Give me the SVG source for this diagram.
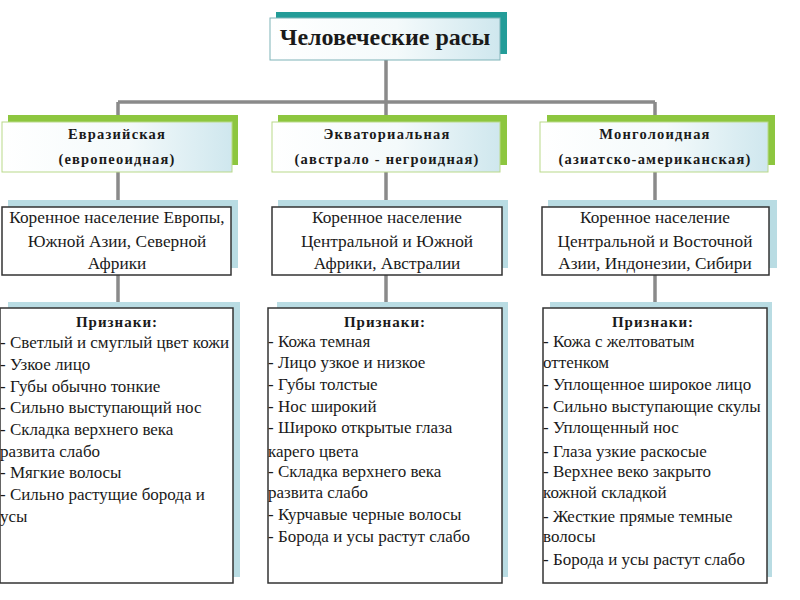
<svg xmlns="http://www.w3.org/2000/svg" width="800" height="600" viewBox="0 0 800 600">
<defs>
<linearGradient id="gbox" x1="0" y1="0" x2="1" y2="0">
<stop offset="0" stop-color="#ffffff"/>
<stop offset="0.55" stop-color="#f4fafb"/>
<stop offset="1" stop-color="#cfe7ee"/>
</linearGradient>
<style>
.conn{stroke:#8a8a8a;stroke-width:3.5;fill:none}
.tshadow{fill:#239c98}
.rshadow{fill:#8dc63f}
.bshadow{fill:#b9dce3}
.tbox{fill:url(#gbox);stroke:#7fb3b8;stroke-width:1}
.rbox{fill:url(#gbox);stroke:#b9d98a;stroke-width:1}
.wbox{fill:#ffffff;stroke:#333333;stroke-width:1.5}
text{font-family:'Liberation Serif','Times New Roman',Tinos,'DejaVu Serif','Noto Serif',serif;fill:#1a1a1a}
.title{font-size:24px;font-weight:bold;text-anchor:middle}
.race{font-size:14.5px;font-weight:bold;text-anchor:middle;letter-spacing:1.2px}
.desc{font-size:17.3px;text-anchor:middle}
.hdr{font-size:15px;font-weight:bold;text-anchor:middle;letter-spacing:1px}
.feat{font-size:17px}
</style>
</defs>
<rect width="800" height="600" fill="#ffffff"/>

<g id="connectors">
<line class="conn" x1="386" y1="60" x2="386" y2="102"/>
<line class="conn" x1="118" y1="102" x2="655" y2="102"/>
<line class="conn" x1="118" y1="102" x2="118" y2="122"/>
<line class="conn" x1="386" y1="102" x2="386" y2="122"/>
<line class="conn" x1="655" y1="102" x2="655" y2="122"/>
<line class="conn" x1="118" y1="172" x2="118" y2="207"/>
<line class="conn" x1="386" y1="172" x2="386" y2="207"/>
<line class="conn" x1="655" y1="172" x2="655" y2="207"/>
<line class="conn" x1="118" y1="275" x2="118" y2="308"/>
<line class="conn" x1="386" y1="275" x2="386" y2="308"/>
<line class="conn" x1="655" y1="275" x2="655" y2="308"/>
</g>

<g id="title">
<rect class="tshadow" x="276" y="12" width="231" height="42"/>
<rect class="tbox" x="270" y="18" width="230" height="42"/>
<text class="title" x="385" y="45">Человеческие расы</text>
</g>

<g id="race-eurasian">
<rect class="rshadow" x="8" y="115" width="230" height="50"/>
<rect class="rbox" x="2" y="122" width="230" height="50"/>
<text class="race" x="117" y="139">Евразийская</text>
<text class="race" x="117" y="164">(европеоидная)</text>
</g>
<g id="race-equatorial">
<rect class="rshadow" x="278" y="115" width="229" height="50"/>
<rect class="rbox" x="272" y="122" width="228" height="50"/>
<text class="race" x="387" y="139">Экваториальная</text>
<text class="race" x="387" y="164">(австрало - негроидная)</text>
</g>
<g id="race-mongoloid">
<rect class="rshadow" x="547" y="115" width="228" height="50"/>
<rect class="rbox" x="540" y="122" width="228" height="50"/>
<text class="race" x="655" y="139">Монголоидная</text>
<text class="race" x="655" y="164">(азиатско-американская)</text>
</g>

<g id="desc-eurasian">
<rect class="bshadow" x="8" y="200" width="230" height="68"/>
<rect class="wbox" x="2" y="207" width="229" height="68"/>
<text class="desc" x="117" y="223">Коренное население Европы,</text>
<text class="desc" x="117" y="247">Южной Азии, Северной</text>
<text class="desc" x="117" y="269">Африки</text>
</g>
<g id="desc-equatorial">
<rect class="bshadow" x="278" y="200" width="230" height="68"/>
<rect class="wbox" x="272" y="207" width="230" height="68"/>
<text class="desc" x="387" y="223">Коренное население</text>
<text class="desc" x="387" y="247">Центральной и Южной</text>
<text class="desc" x="387" y="269">Африки, Австралии</text>
</g>
<g id="desc-mongoloid">
<rect class="bshadow" x="548" y="200" width="229" height="68"/>
<rect class="wbox" x="542" y="207" width="227" height="68"/>
<text class="desc" x="655" y="223">Коренное население</text>
<text class="desc" x="655" y="247">Центральной и Восточной</text>
<text class="desc" x="655" y="269">Азии, Индонезии, Сибири</text>
</g>

<g id="features-eurasian">
<rect class="bshadow" x="8" y="302" width="232" height="275"/>
<rect class="wbox" x="0" y="308" width="233" height="275"/>
<text class="hdr" x="117" y="327">Признаки:</text>
<text class="feat" x="0" y="348">- Светлый и смуглый цвет кожи</text>
<text class="feat" x="0" y="370">- Узкое лицо</text>
<text class="feat" x="0" y="392">- Губы обычно тонкие</text>
<text class="feat" x="0" y="413">- Сильно выступающий нос</text>
<text class="feat" x="0" y="435">- Складка верхнего века</text>
<text class="feat" x="0" y="457">развита слабо</text>
<text class="feat" x="0" y="478">- Мягкие волосы</text>
<text class="feat" x="0" y="500">- Сильно растущие борода и</text>
<text class="feat" x="0" y="522">усы</text>
</g>
<g id="features-equatorial">
<rect class="bshadow" x="277" y="302" width="231" height="275"/>
<rect class="wbox" x="268" y="308" width="234" height="275"/>
<text class="hdr" x="385" y="327">Признаки:</text>
<text class="feat" x="268" y="347">- Кожа темная</text>
<text class="feat" x="268" y="368">- Лицо узкое и низкое</text>
<text class="feat" x="268" y="390">- Губы толстые</text>
<text class="feat" x="268" y="412">- Нос широкий</text>
<text class="feat" x="268" y="433">- Широко открытые глаза</text>
<text class="feat" x="268" y="457">карего цвета</text>
<text class="feat" x="268" y="477">- Складка верхнего века</text>
<text class="feat" x="268" y="498">развита слабо</text>
<text class="feat" x="268" y="520">- Курчавые черные волосы</text>
<text class="feat" x="268" y="542">- Борода и усы растут слабо</text>
</g>
<g id="features-mongoloid">
<rect class="bshadow" x="550" y="302" width="222" height="275"/>
<rect class="wbox" x="543" y="308" width="224" height="275"/>
<text class="hdr" x="653" y="327">Признаки:</text>
<text class="feat" x="543" y="347">- Кожа с желтоватым</text>
<text class="feat" x="543" y="368">оттенком</text>
<text class="feat" x="543" y="390">- Уплощенное широкое лицо</text>
<text class="feat" x="543" y="412">- Сильно выступающие скулы</text>
<text class="feat" x="543" y="433">- Уплощенный нос</text>
<text class="feat" x="543" y="457">- Глаза узкие раскосые</text>
<text class="feat" x="543" y="477">- Верхнее веко закрыто</text>
<text class="feat" x="543" y="498">кожной складкой</text>
<text class="feat" x="543" y="522">- Жесткие прямые темные</text>
<text class="feat" x="543" y="542">волосы</text>
<text class="feat" x="543" y="565">- Борода и усы растут слабо</text>
</g>
</svg>
